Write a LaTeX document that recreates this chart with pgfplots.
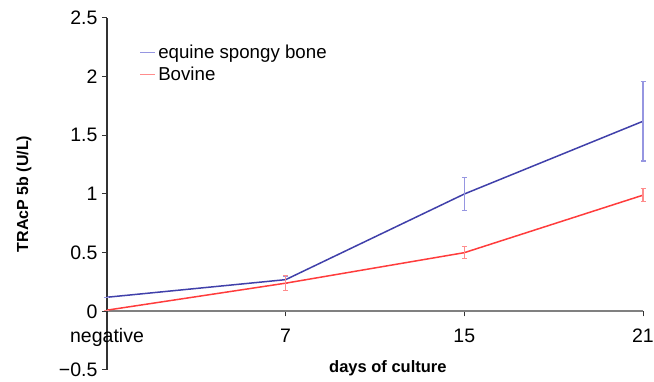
\documentclass[border=0pt]{standalone}
\usepackage{pgfplots}
\pgfplotsset{compat=1.18}
\usepackage{fontspec}
\setmainfont{Liberation Sans}
\definecolor{eqline}{RGB}{64,64,170}
\definecolor{eqerr}{RGB}{150,150,225}
\definecolor{bovline}{RGB}{255,60,60}
\definecolor{boverr}{RGB}{255,140,140}
\begin{document}
\begin{tikzpicture}
\path[use as bounding box] (-107pt,-12pt) rectangle (547pt,370pt);
\begin{axis}[
  at={(0,0)}, anchor=south west,
  scale only axis, width=536pt, height=352pt,
  xmin=0, xmax=3, ymin=-0.5, ymax=2.5,
  axis y line*=left, axis x line*=middle,
  hide obscured x ticks=false,
  clip=false,
  xtick={0,1,2,3}, xticklabels={negative,7,15,21},
  ytick={-0.5,0,0.5,1,1.5,2,2.5},
  yticklabels={−0.5,0,0.5,1,1.5,2,2.5},
  tick align=outside,
  major tick length=5pt,
  tick style={black!80, line width=1pt},
  x axis line style={draw=gray, line width=2.2pt},
  y axis line style={draw=black!80, line width=1.1pt},
  ticklabel style={font=\fontsize{19.5}{22}\selectfont},
  xticklabel style={yshift=-9pt},
  yticklabel style={xshift=-1pt},
  xlabel={days of culture},
  ylabel={TRAcP 5b (U/L)},
  xlabel style={font=\bfseries\fontsize{16.5}{19}\selectfont, at={(axis description cs:0.524,0.006)}, anchor=center},
  ylabel style={font=\bfseries\fontsize{16}{19}\selectfont, at={(axis description cs:-0.155,0.50)}, anchor=center},
  legend style={at={(0.055,0.935)}, anchor=north west, draw=none, fill=none,
    font=\fontsize{18.7}{21}\selectfont, row sep=3pt,
    nodes={inner xsep=2pt}},
  legend cell align=left,
  legend image code/.code={\draw[#1] (0pt,0pt) -- (15pt,0pt);},
]
\addlegendimage{eqerr, line width=1.6pt}
\addlegendentry{equine spongy bone}
\addlegendimage{boverr, line width=1.6pt}
\addlegendentry{Bovine}
\addplot[eqline, line width=1.5pt, error bars/.cd, y dir=both, y explicit,
  error bar style={eqerr, line width=1.3pt},
  error mark options={rotate=90, eqerr, mark size=2.5pt, line width=1.3pt}]
  coordinates {(0,0.12) +- (0,0) (1,0.27) +- (0,0.03) (2,1.0) +- (0,0.14) (3,1.62) +- (0,0.34)};
\addplot[bovline, line width=1.5pt, error bars/.cd, y dir=both, y explicit,
  error bar style={boverr, line width=1.3pt},
  error mark options={rotate=90, boverr, mark size=2.5pt, line width=1.3pt}]
  coordinates {(0,0.01) +- (0,0) (1,0.24) +- (0,0.065) (2,0.5) +- (0,0.05) (3,0.99) +- (0,0.055)};
\end{axis}
\end{tikzpicture}
\end{document}
